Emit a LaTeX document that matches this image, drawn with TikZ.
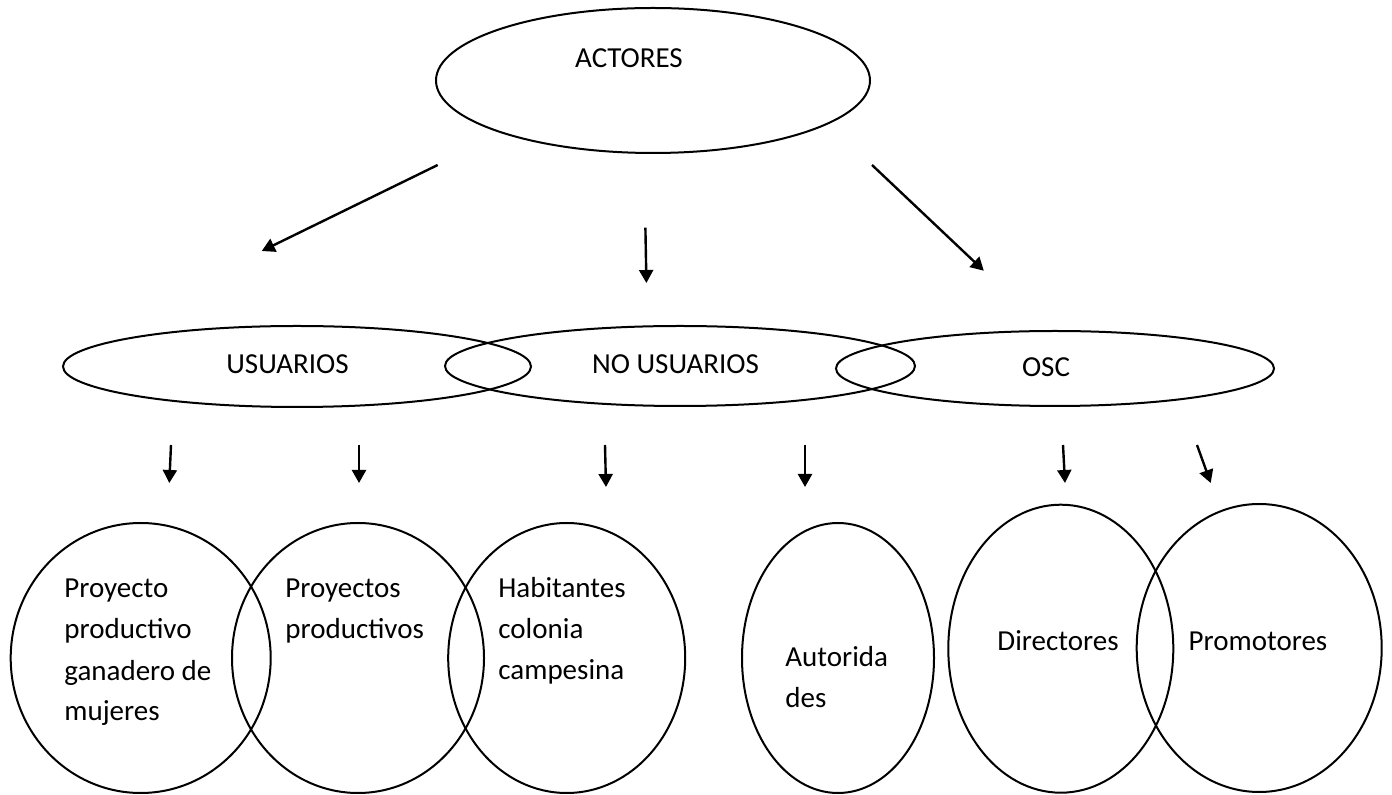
\documentclass[tikz,border=0pt]{standalone}
\usepackage{fontspec}
\setmainfont{Carlito}
\usetikzlibrary{shapes.geometric,arrows.meta}
\begin{document}
\begin{tikzpicture}[x=0.5pt,y=-0.5pt,
  ov/.style={draw,ellipse,line width=1pt,inner sep=0pt},
  lbl/.style={font=\fontsize{14.5}{20.5}\selectfont,inner sep=0pt,align=left},
  arr/.style={line width=1.2pt,-{Triangle[length=6.5pt,width=7pt]}}]
\useasboundingbox (0,0) rectangle (1392,795);
% top
\node[ov,minimum width=217pt,minimum height=72.5pt] (actores) at (653,80.5) {};
\node[lbl,anchor=base] (tactores) at (629,68) {ACTORES};
% middle row
\node[ov,minimum width=234pt,minimum height=40.5pt] (usuarios) at (297,366.5) {};
\node[ov,minimum width=235pt,minimum height=40pt] (nousuarios) at (680,366) {};
\node[ov,minimum width=219pt,minimum height=37.5pt] (osc) at (1055,368.5) {};
\node[lbl,anchor=base] (tusuarios) at (287.5,374) {USUARIOS};
\node[lbl,anchor=base] (tnousuarios) at (675.5,374) {NO USUARIOS};
\node[lbl,anchor=base] (tosc) at (1046,377) {OSC};
% bottom row
\node[ov,minimum width=130pt,minimum height=135pt] (c1) at (140.7,658) {};
\node[ov,minimum width=126pt,minimum height=135pt] (c2) at (358,658) {};
\node[ov,minimum width=118.5pt,minimum height=135pt] (c3) at (566.7,658) {};
\node[ov,minimum width=96pt,minimum height=135pt] (c4) at (838,658) {};
\node[ov,minimum width=112.5pt,minimum height=144pt] (c5) at (1060.8,648.7) {};
\node[ov,minimum width=122.5pt,minimum height=144pt] (c6) at (1259.2,648) {};
\node[lbl,anchor=base west] (t1) at (64,721) {Proyecto\\productivo\\ganadero de\\mujeres};
\node[lbl,anchor=base west] (t2) at (285,639) {Proyectos\\productivos};
\node[lbl,anchor=base west] (t3) at (498,680) {Habitantes\\colonia\\campesina};
\node[lbl,anchor=base west] (t4) at (785,708) {Autorida\\des};
\node[lbl,anchor=base] (t5) at (1058,651) {Directores};
\node[lbl,anchor=base] (t6) at (1258,651) {Promotores};
% top arrows
\coordinate (a1s) at (437.7,165); \coordinate (a1e) at (261.8,251);
\coordinate (a2s) at (645.4,227.7); \coordinate (a2e) at (646.4,283);
\coordinate (a3s) at (872,165); \coordinate (a3e) at (983.8,270.7);
\draw[arr] (a1s) -- (a1e);
\draw[arr] (a2s) -- (a2e);
\draw[arr] (a3s) -- (a3e);
% small arrows
\coordinate (b1s) at (171,445); \coordinate (b1e) at (169.3,483);
\coordinate (b2s) at (359,445); \coordinate (b2e) at (359,483);
\coordinate (b3s) at (605,445); \coordinate (b3e) at (606,487);
\coordinate (b4s) at (805,445); \coordinate (b4e) at (805,487);
\coordinate (b5s) at (1063,445); \coordinate (b5e) at (1065,483);
\coordinate (b6s) at (1197,445); \coordinate (b6e) at (1210.7,483);
\foreach \i in {1,...,6} {\draw[arr] (b\i s) -- (b\i e);}
\end{tikzpicture}
\end{document}
